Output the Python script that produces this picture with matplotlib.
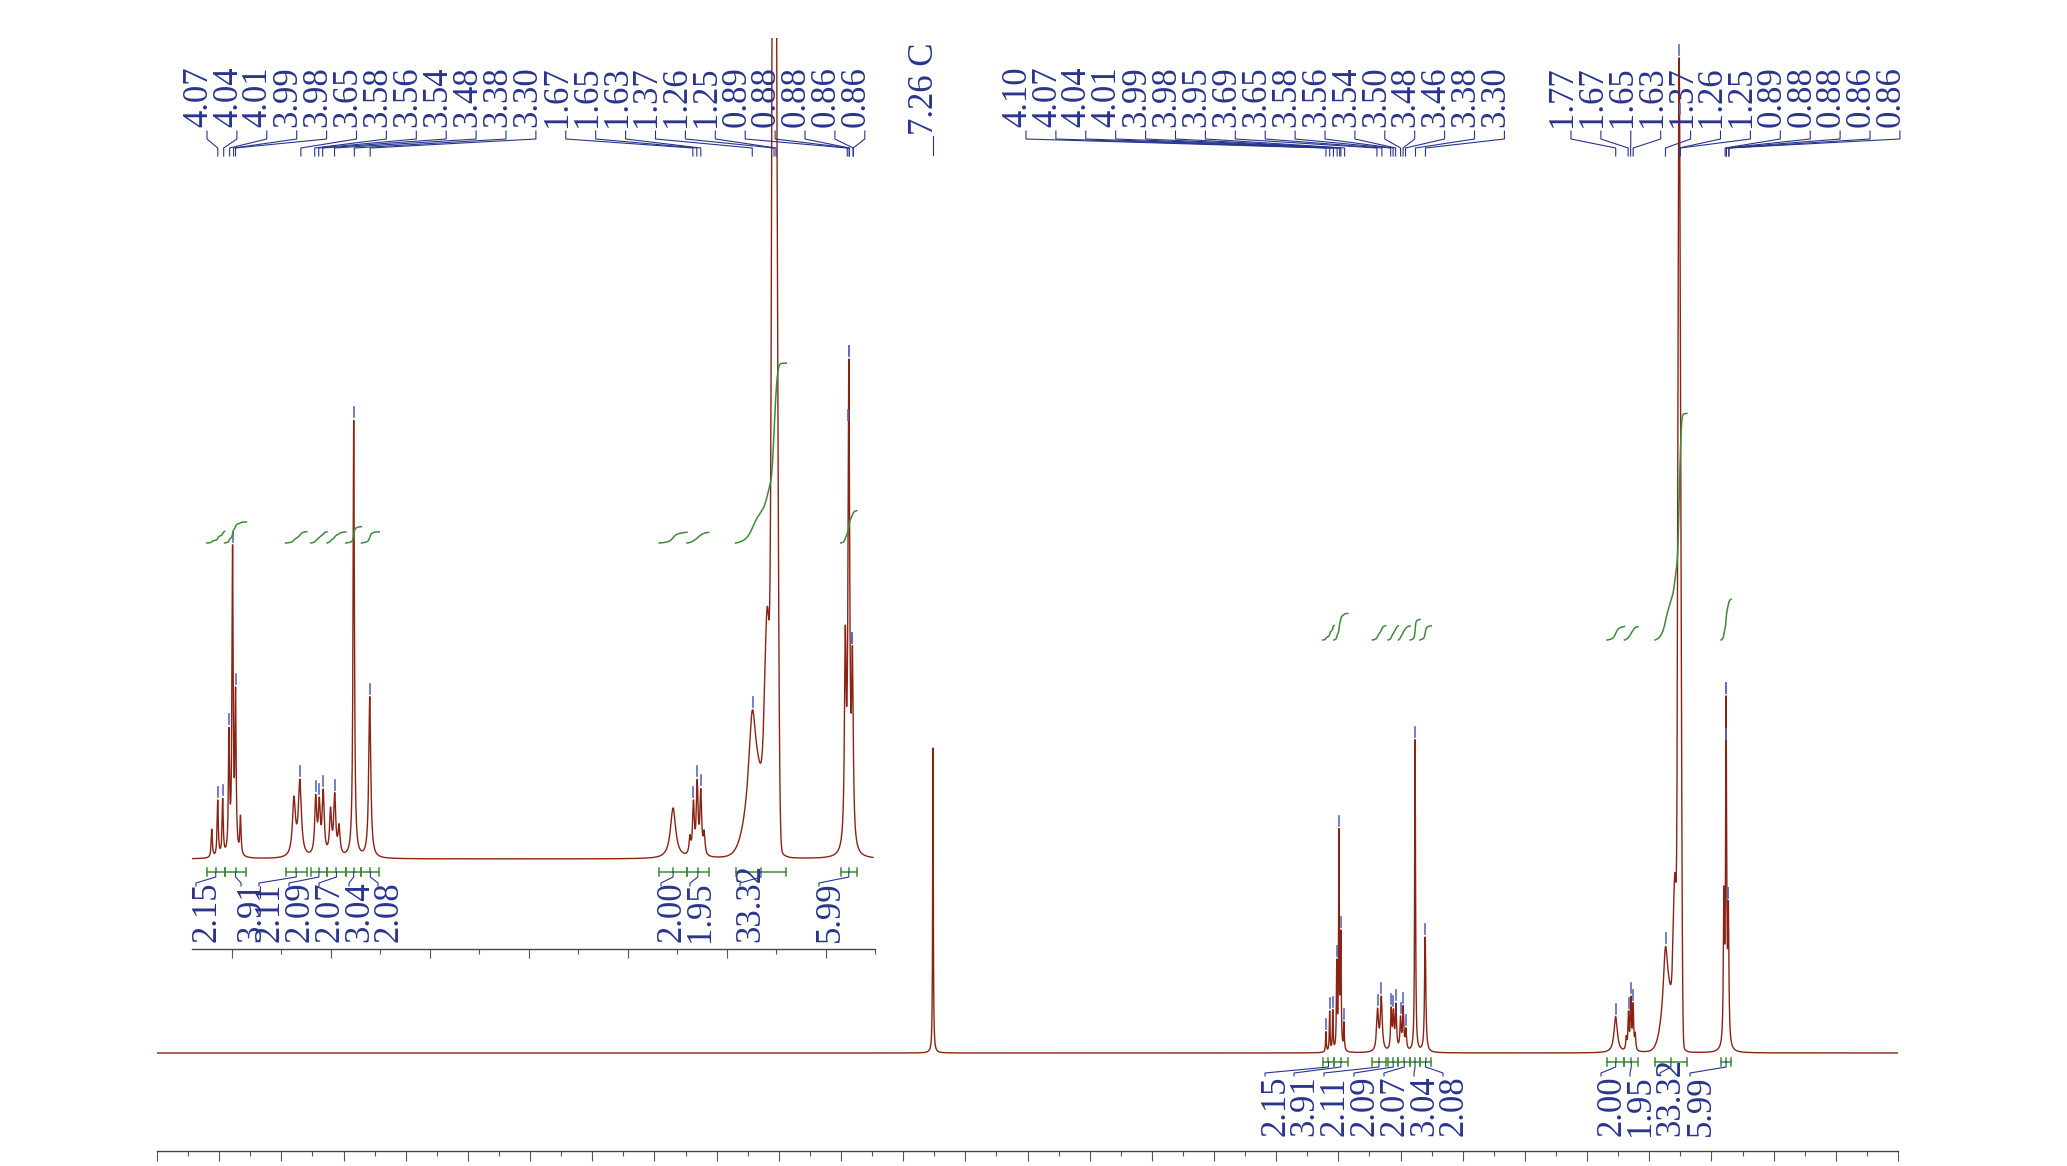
import numpy as np
import matplotlib.pyplot as plt
from matplotlib.transforms import blended_transform_factory

# ----------------------------------------------------------------------
#  dane odczytane z widma
# ----------------------------------------------------------------------

# linie lorentzowskie: polozenie (ppm), wysokosc, polszerokosc (ppm)
line_ppm = [7.260, 4.100, 4.070, 4.045, 4.013, 3.995, 3.980, 3.955,
            3.685, 3.655, 3.575, 3.557, 3.537, 3.500, 3.479, 3.457,
            3.383, 3.302, 1.770, 1.685, 1.667, 1.648, 1.630, 1.613,
            1.370, 0.900, 0.882, 0.864]
line_height = [305, 20, 40, 40, 84, 215, 110, 27,
               40, 53, 40, 35, 44, 31, 42, 20,
               312, 115, 36, 12, 36, 50, 44, 15,
               60, 140, 338, 125]
line_width = [0.003, 0.0035, 0.0035, 0.0035, 0.0035, 0.0035, 0.0035, 0.0035,
              0.009, 0.009, 0.006, 0.006, 0.006, 0.006, 0.006, 0.006,
              0.004, 0.006, 0.016, 0.005, 0.005, 0.005, 0.005, 0.005,
              0.02, 0.005, 0.005, 0.005]

# obwiednia CH2 (gauss)
env_ppm = [1.262, 1.248, 1.293, 1.340]
env_height = [840, 420, 140, 55]
env_sigma = [0.0085, 0.0085, 0.013, 0.05]

# podpisy pikow
main_labels_a = ['4.10', '4.07', '4.04', '4.01', '3.99', '3.98', '3.95', '3.69', '3.65',
                 '3.58', '3.56', '3.54', '3.50', '3.48', '3.46', '3.38', '3.30']
main_labels_b = ['1.77', '1.67', '1.65', '1.63', '1.37', '1.26', '1.25',
                 '0.89', '0.88', '0.88', '0.86', '0.86']
inset_labels = ['4.07', '4.04', '4.01', '3.99', '3.98', '3.65', '3.58', '3.56', '3.54',
                '3.48', '3.38', '3.30', '1.67', '1.65', '1.63', '1.37', '1.26', '1.25',
                '0.89', '0.88', '0.88', '0.86', '0.86']
solvent_ppm = 7.26
solvent_label = '7.26 C'

# calki
int_from = [4.125, 4.035, 3.727, 3.600, 3.518, 3.423, 3.344, 1.840, 1.700, 1.454, 0.923]
int_to = [4.035, 3.925, 3.620, 3.518, 3.423, 3.344, 3.254, 1.700, 1.590, 1.198, 0.842]
int_value = ['2.15', '3.91', '2.11', '2.09', '2.07', '3.04', '2.08', '2.00', '1.95', '33.32', '5.99']

# ----------------------------------------------------------------------

W, H = 2067, 1166
NAVY = '#28358C'
GREEN = '#3E8A3A'
RED = '#8A2314'
MARK = '#5A68C0'
SERIF = ['Liberation Serif', 'DejaVu Serif']
FS = 25
STEP = 29.9

ppm = np.linspace(-0.5, 13.5, 56001)
spec = np.zeros_like(ppm)
for p, h, w in zip(line_ppm, line_height, line_width):
    spec += h / (1 + ((ppm - p) / w) ** 2)
for p, h, s in zip(env_ppm, env_height, env_sigma):
    spec += h * np.exp(-0.5 * ((ppm - p) / s) ** 2)

fig = plt.figure(figsize=(W / 100, H / 100), dpi=100)

ax = fig.add_axes([157 / W, 15 / H, 1741 / W, 1151 / H])
ax.set_xlim(13.5, -0.5)
ax.set_ylim(-98, 1053)

axi = fig.add_axes([192 / W, (H - 949) / H, 683 / W, 911 / H])
axi.set_xlim(4.20, 0.77)
axi.set_ylim(-64.3, 586.4)
axi.patch.set_alpha(0)

for a, major, minor in [(ax, 10, 5), (axi, 9, 5)]:
    for s in ['left', 'right', 'top']:
        a.spines[s].set_visible(False)
    a.spines['bottom'].set_color('#444444')
    a.spines['bottom'].set_linewidth(1.0)
    a.set_yticks([])
    a.tick_params(axis='x', which='major', direction='out', length=major * 0.72,
                  width=0.8, color='#555555', labelbottom=False)
    a.tick_params(axis='x', which='minor', direction='out', length=minor * 0.72,
                  width=0.8, color='#555555')

ax.set_xticks(np.arange(-0.5, 13.51, 0.5))
ax.set_xticks(np.arange(-0.25, 13.5, 0.5), minor=True)
axi.set_xticks(np.arange(1.0, 4.01, 0.5))
axi.set_xticks(np.arange(0.75, 4.2, 0.5), minor=True)

ax.plot(ppm, spec, color=RED, lw=1.0)
sel = (ppm > 0.76) & (ppm < 4.21)
axi.plot(ppm[sel], spec[sel], color=RED, lw=1.0)


def px_to_ppm(a, px):
    x0, x1 = a.get_xlim()
    bb = a.get_position()
    return x0 + (px - bb.x0 * W) / (bb.width * W) * (x1 - x0)


def fy(py):
    return 1 - py / H


def peak_top(p):
    near = np.abs(ppm - p) < 0.006
    return spec[near].max(), ppm[near][np.argmax(spec[near])]


def top_labels(a, labels, first_px, unit):
    tr = blended_transform_factory(a.transData, fig.transFigure)
    for i, lab in enumerate(labels):
        lx = px_to_ppm(a, first_px + i * STEP)
        tx = float(lab)
        a.text(lx, fy(127), lab, transform=tr, rotation=90, rotation_mode='anchor',
               ha='left', va='baseline', fontsize=FS, color=NAVY, family=SERIF, clip_on=False)
        a.plot([lx, lx, tx, tx], [fy(131), fy(139), fy(148), fy(156)], transform=tr,
               color=NAVY, lw=0.8, clip_on=False)
        top, tp = peak_top(tx)
        a.plot([tp, tp], [top + 3 / unit, top + 13 / unit], color=MARK, lw=1.2)


top_labels(ax, main_labels_a, 1026, 1.0)
top_labels(ax, main_labels_b, 1571, 1.0)
top_labels(axi, inset_labels, 207, 1.4)

# rozpuszczalnik
trm = blended_transform_factory(ax.transData, fig.transFigure)
ax.text(solvent_ppm, fy(135), solvent_label, transform=trm, rotation=90, rotation_mode='anchor',
        ha='left', va='baseline', fontsize=FS, color=NAVY, family=SERIF)
ax.plot([solvent_ppm, solvent_ppm], [fy(136), fy(155)], transform=trm, color=NAVY, lw=0.8)


def integrals(a, base_py, per_h, bracket_py, label_px, label_py):
    tr = blended_transform_factory(a.transData, fig.transFigure)
    for i, (x0, x1, val) in enumerate(zip(int_from, int_to, int_value)):
        m = (ppm <= x0) & (ppm >= x1)
        xs = ppm[m][::-1]
        cum = np.cumsum(spec[m][::-1])
        cum = cum / cum[-1] * float(val) * per_h
        a.plot(xs, fy(base_py - cum), transform=tr, color=GREEN, lw=1.1)
        # klamra
        cx = (x0 + x1) / 2
        a.plot([x0, x1], [fy(bracket_py)] * 2, transform=tr, color=GREEN, lw=1.1)
        for xe in (x0, x1):
            a.plot([xe, xe], [fy(bracket_py - 4), fy(bracket_py + 4)], transform=tr,
                   color=GREEN, lw=1.1)
        a.plot([cx, cx], [fy(bracket_py - 4), fy(bracket_py)], transform=tr, color=GREEN, lw=1.1)
        # podpis
        lc = px_to_ppm(a, label_px[i])
        ll = px_to_ppm(a, label_px[i] - 11)
        a.plot([cx, cx, ll, ll], [fy(bracket_py), fy(bracket_py + 5), fy(bracket_py + 11),
                                  fy(bracket_py + 14)], transform=tr, color=NAVY, lw=0.8,
               clip_on=False)
        a.text(lc, fy(label_py), val, transform=tr, rotation=90, rotation_mode='anchor',
               ha='left', va='center', fontsize=FS, color=NAVY, family=SERIF, clip_on=False)


main_int_px = [1276, 1305, 1335, 1365, 1395, 1425, 1454, 1612, 1641, 1671, 1701]
inset_int_px = [207, 252, 270, 300, 330, 360, 389, 672, 701, 751, 830]
integrals(ax, 640, 6.8, 1062, main_int_px, 1136)
integrals(axi, 543, 5.4, 872, inset_int_px, 942)

plt.savefig('out.png', dpi=100)
